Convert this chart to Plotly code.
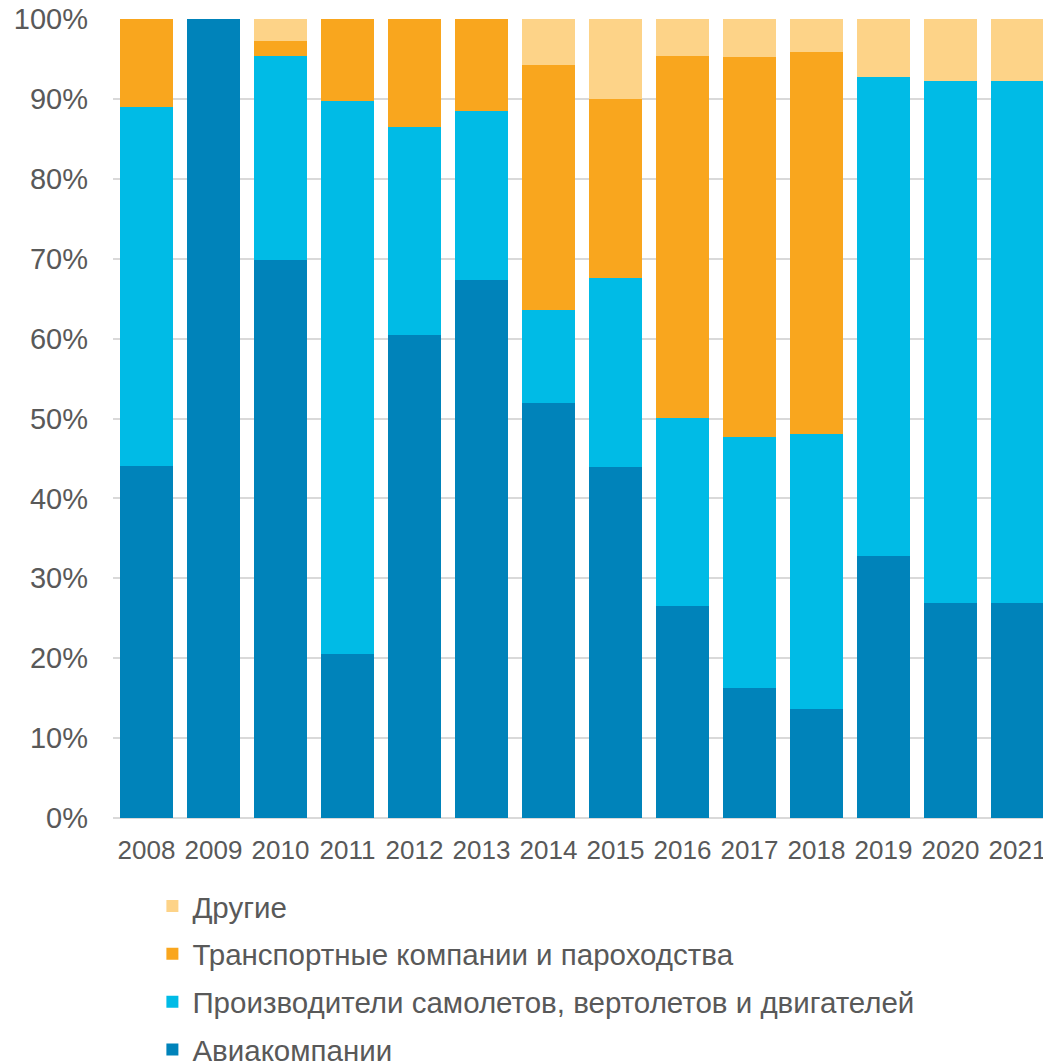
import plotly.graph_objects as go

years = ["2008", "2009", "2010", "2011", "2012", "2013", "2014",
         "2015", "2016", "2017", "2018", "2019", "2020", "2021"]

airlines = [44.0, 100.0, 69.9, 20.5, 60.4, 67.3, 51.9, 43.9, 26.5, 16.3, 13.6, 32.8, 26.9, 26.9]
manufacturers = [45.0, 0.0, 25.5, 69.3, 26.1, 21.2, 11.7, 23.7, 23.6, 31.4, 34.5, 60.0, 65.4, 65.4]
transport = [11.0, 0.0, 1.8, 10.2, 13.5, 11.5, 30.7, 22.4, 45.3, 47.6, 47.8, 0.0, 0.0, 0.0]
others = [0.0, 0.0, 2.8, 0.0, 0.0, 0.0, 5.7, 10.0, 4.6, 4.7, 4.1, 7.2, 7.7, 7.7]

names = ["Авиакомпании",
         "Производители самолетов, вертолетов и двигателей",
         "Транспортные компании и пароходства",
         "Другие"]
colors = ["#0083BA", "#00BBE6", "#F9A61E", "#FDD388"]
ranks = [4, 3, 2, 1]
series = [airlines, manufacturers, transport, others]

fig = go.Figure()
for name, vals, col, rk in zip(names, series, colors, ranks):
    fig.add_trace(go.Bar(
        x=years, y=vals, name=name, legendgroup=name, legendrank=rk,
        marker=dict(color=col, line=dict(width=0)),
    ))

font_family = "Liberation Sans, Arial, sans-serif"
grey = "#595959"

# the page body adds an 8px offset, so the figure is sized to end at the window edge
fig.update_layout(
    barmode="stack",
    bargap=0.21,
    width=1043, height=1056,
    margin=dict(l=105, r=0, t=10.5, b=245.5, autoexpand=False),
    paper_bgcolor="white",
    plot_bgcolor="white",
    font=dict(family=font_family, color=grey),
    showlegend=True,
    legend=dict(
        orientation="v",
        traceorder="grouped",
        tracegroupgap=6.5,
        x=0.042, xanchor="left",
        y=-0.078, yanchor="top",
        font=dict(size=29.5, color=grey, family=font_family),
        bgcolor="rgba(0,0,0,0)",
    ),
    xaxis=dict(
        tickfont=dict(size=26, color=grey),
        showgrid=False,
        showline=False,
        ticks="",
        ticklabelstandoff=14,
        ticklabeloverflow="allow",
    ),
    yaxis=dict(
        range=[0, 100],
        dtick=10,
        ticksuffix="%",
        tickfont=dict(size=29, color=grey),
        showgrid=True,
        gridcolor="#D9D9D9",
        gridwidth=1.5,
        zeroline=True,
        zerolinecolor="#D9D9D9",
        zerolinewidth=2,
        ticks="",
        ticklabelstandoff=24,
        ticklabeloverflow="allow",
        fixedrange=True,
    ),
)

fig.write_html("out.html")
